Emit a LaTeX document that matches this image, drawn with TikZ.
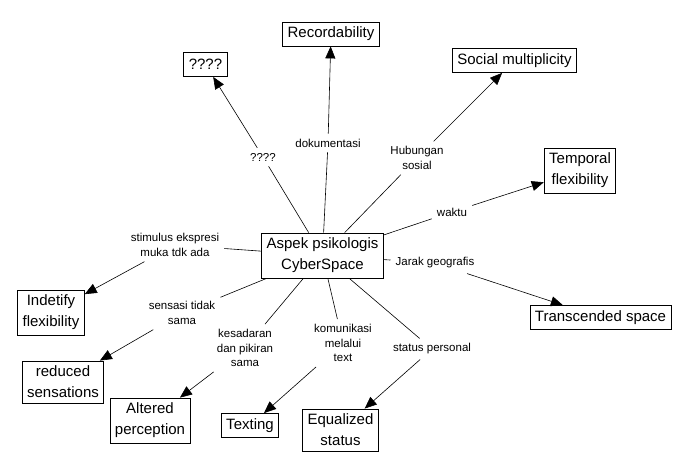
\documentclass[tikz,border=0pt]{standalone}
\usepackage{fontspec}
\setmainfont{Liberation Sans}
\usepackage{tikz}
\usetikzlibrary{arrows.meta}

\begin{document}
\begin{tikzpicture}[x=1pt,y=-1pt,
  box/.style={draw,line width=0.8pt,font=\fontsize{15}{21}\selectfont,align=center,inner xsep=5pt,inner ysep=5pt,minimum height=24pt},
  lbl/.style={font=\fontsize{11.5}{14.5}\selectfont,align=center,inner sep=5pt},
  wire/.style={line width=0.6pt},
  link/.style={line width=0.6pt,-{Triangle[length=12pt,width=10pt]}}]
  \useasboundingbox (0,0) rectangle (683,472);

  \node[box] (hub) at (322.5,255.5) {Aspek psikologis\\CyberSpace};

  \node[box] (unk) at (205.5,64.5) {????};
  \node[box] (rec) at (331,34) {Recordability};
  \node[box] (soc) at (514.5,60.5) {Social multiplicity};
  \node[box] (temp) at (580,170.5) {Temporal\\flexibility};
  \node[box] (trans) at (600.5,317.5) {Transcended space};
  \node[box] (indet) at (51,312.5) {Indetify\\flexibility};
  \node[box] (red) at (63,382) {reduced\\sensations};
  \node[box] (alt) at (150,420.5) {Altered\\perception};
  \node[box] (txt) at (250,425.5) {Texting};
  \node[box] (equ) at (340.5,430) {Equalized\\status};

  \node[lbl] (qq) at (263,157) {????};
  \node[lbl] (dok) at (328,143) {dokumentasi};
  \node[lbl] (hub-sos) at (417,158) {Hubungan\\sosial};
  \node[lbl] (wak) at (452,212) {waktu};
  \node[lbl] (jar) at (435,263) {Jarak geografis};
  \node[lbl] (stim) at (175,245) {stimulus ekspresi\\muka tdk ada};
  \node[lbl] (sens) at (182,313) {sensasi tidak\\sama};
  \node[lbl] (kes) at (245,348) {kesadaran\\dan pikiran\\sama};
  \node[lbl] (kom) at (343,343) {komunikasi\\melalui\\text};
  \node[lbl] (stat) at (432,349) {status personal};

  \draw[wire] (hub) -- (qq);   \draw[link] (qq) -- (unk);
  \draw[wire] (hub) -- (dok);  \draw[link] (dok) -- (rec);
  \draw[wire] (hub) -- (hub-sos); \draw[link] (hub-sos) -- (soc);
  \draw[wire] (hub) -- (wak);  \draw[link] (wak) -- (temp);
  \draw[wire] (hub) -- (jar);  \draw[link] (jar) -- (trans);
  \draw[wire] (hub) -- (stim); \draw[link] (stim) -- (indet);
  \draw[wire] (hub) -- (sens); \draw[link] (sens) -- (red);
  \draw[wire] (hub) -- (kes);  \draw[link] (kes) -- (alt);
  \draw[wire] (hub) -- (kom);  \draw[link] (kom) -- (txt);
  \draw[wire] (hub) -- (stat); \draw[link] (stat) -- (equ);
\end{tikzpicture}
\end{document}
